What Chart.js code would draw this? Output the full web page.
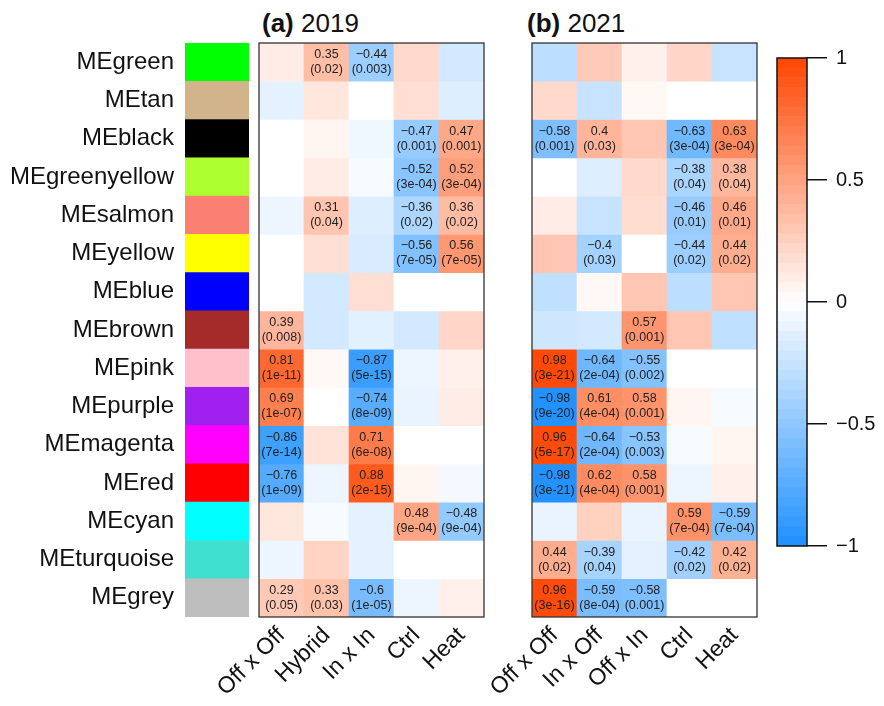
<!DOCTYPE html>
<html>
<head>
<meta charset="utf-8">
<script src="https://cdn.jsdelivr.net/npm/chart.js@4.4.1/dist/chart.umd.min.js"></script>
<style>
  html, body { margin: 0; padding: 0; background: #fff; }
  #wrap { position: relative; width: 884px; height: 706px; overflow: hidden;
          font-family: 'Liberation Sans', Arial, Helvetica, sans-serif; }
  #wrap canvas { position: absolute; left: 0; top: 0; }
  .title { position: absolute; top: 10px; font-size: 26px; line-height: 26px; color: #111; white-space: nowrap; }
</style>
</head>
<body>
<div id="wrap">
  <div class="title" style="left:262px"><b>(a)</b> 2019</div>
  <div class="title" style="left:527px"><b>(b)</b> 2021</div>
  <canvas id="strip" width="884" height="706"></canvas>
  <canvas id="heat2019" width="884" height="706"></canvas>
  <canvas id="heat2021" width="884" height="706"></canvas>
  <canvas id="key" width="884" height="706"></canvas>
</div>
<script>
// Module eigengenes (rows) and their module colours
const modules = ['MEgreen', 'MEtan', 'MEblack', 'MEgreenyellow', 'MEsalmon', 'MEyellow', 'MEblue',
  'MEbrown', 'MEpink', 'MEpurple', 'MEmagenta', 'MEred', 'MEcyan', 'MEturquoise', 'MEgrey'];
const moduleColors = ['#00FF00', '#D2B48C', '#000000', '#ADFF2F', '#FA8072', '#FFFF00', '#0000FF',
  '#A52A2A', '#FFC0CB', '#A020F0', '#FF00FF', '#FF0000', '#00FFFF', '#40E0D0', '#BEBEBE'];

// Traits (columns)
const traits2019 = ['Off x Off', 'Hybrid', 'In x In', 'Ctrl', 'Heat'];
const traits2021 = ['Off x Off', 'In x Off', 'Off x In', 'Ctrl', 'Heat'];

// Module–trait correlations, 2019
const corr2019 = [
  [ 0.10,  0.35, -0.44,  0.20, -0.20],
  [-0.12,  0.13,  0.00,  0.17, -0.15],
  [ 0.00,  0.05, -0.07, -0.47,  0.47],
  [ 0.00,  0.10, -0.04, -0.52,  0.52],
  [-0.08,  0.31, -0.15, -0.36,  0.36],
  [ 0.00,  0.17, -0.17, -0.56,  0.56],
  [ 0.00, -0.20,  0.17,  0.00,  0.00],
  [ 0.39, -0.20, -0.13, -0.20,  0.22],
  [ 0.81,  0.04, -0.87, -0.08,  0.08],
  [ 0.69,  0.00, -0.74, -0.10,  0.10],
  [-0.86,  0.15,  0.71,  0.00,  0.00],
  [-0.76, -0.08,  0.88,  0.05, -0.05],
  [ 0.13, -0.04, -0.12,  0.48, -0.48],
  [-0.08,  0.23, -0.12,  0.00,  0.00],
  [ 0.29,  0.33, -0.60, -0.08,  0.08]
];
// P-values shown for significant cells, 2019 (null = not shown)
const pval2019 = [
  [null, '0.02', '0.003', null, null],
  [null, null, null, null, null],
  [null, null, null, '0.001', '0.001'],
  [null, null, null, '3e-04', '3e-04'],
  [null, '0.04', null, '0.02', '0.02'],
  [null, null, null, '7e-05', '7e-05'],
  [null, null, null, null, null],
  ['0.008', null, null, null, null],
  ['1e-11', null, '5e-15', null, null],
  ['1e-07', null, '8e-09', null, null],
  ['7e-14', null, '6e-08', null, null],
  ['1e-09', null, '2e-15', null, null],
  [null, null, null, '9e-04', '9e-04'],
  [null, null, null, null, null],
  ['0.05', '0.03', '1e-05', null, null]
];

// Module–trait correlations, 2021
const corr2021 = [
  [-0.30,  0.28,  0.08,  0.22, -0.25],
  [ 0.20, -0.25,  0.04,  0.00,  0.00],
  [-0.58,  0.40,  0.30, -0.63,  0.63],
  [ 0.00, -0.15,  0.20, -0.38,  0.38],
  [ 0.10, -0.25,  0.18, -0.46,  0.46],
  [ 0.30, -0.40,  0.00, -0.44,  0.44],
  [-0.28,  0.04,  0.30, -0.30,  0.30],
  [-0.22, -0.20,  0.57,  0.30, -0.28],
  [ 0.98, -0.64, -0.55,  0.00,  0.00],
  [-0.98,  0.61,  0.58,  0.05, -0.04],
  [ 0.96, -0.64, -0.53, -0.04,  0.05],
  [-0.98,  0.62,  0.58, -0.08,  0.08],
  [-0.10,  0.25, -0.10,  0.59, -0.59],
  [ 0.44, -0.39, -0.12, -0.42,  0.42],
  [ 0.96, -0.59, -0.58,  0.00,  0.00]
];
const pval2021 = [
  [null, null, null, null, null],
  [null, null, null, null, null],
  ['0.001', '0.03', null, '3e-04', '3e-04'],
  [null, null, null, '0.04', '0.04'],
  [null, null, null, '0.01', '0.01'],
  [null, '0.03', null, '0.02', '0.02'],
  [null, null, null, null, null],
  [null, null, '0.001', null, null],
  ['3e-21', '2e-04', '0.002', null, null],
  ['9e-20', '4e-04', '0.001', null, null],
  ['5e-17', '2e-04', '0.003', null, null],
  ['3e-21', '4e-04', '0.001', null, null],
  [null, null, null, '7e-04', '7e-04'],
  ['0.02', '0.04', null, '0.02', '0.02'],
  ['3e-16', '8e-04', '0.001', null, null]
];

// Colour key ticks
const keyTicks = [-1, -0.5, 0, 0.5, 1];
const keySteps = 50;

const FONT = "'Liberation Sans', Arial, Helvetica, sans-serif";
Chart.defaults.font.family = FONT;

// dodgerblue -> white -> orangered
function corrColor(v) {
  const a = Math.min(1, Math.abs(v));
  let c;
  if (v >= 0) c = [255, 255 - 186 * a, 255 - 255 * a];
  else c = [255 - 225 * a, 255 - 111 * a, 255];
  return 'rgb(' + c.map(x => Math.round(x)).join(',') + ')';
}
const fmt = v => String(v).replace('-', '\u2212');

// Outline around the plotting area
const frame = {
  id: 'frame',
  afterDraw(chart, args, opts) {
    const { ctx, chartArea: a } = chart;
    ctx.save();
    ctx.strokeStyle = opts.color || '#333';
    ctx.lineWidth = opts.width || 1.3;
    ctx.strokeRect(a.left, a.top, a.right - a.left, a.bottom - a.top);
    ctx.restore();
  }
};

// Correlation and p-value printed inside the significant cells
function cellText(vals, pvals) {
  return {
    id: 'cellText',
    afterDatasetsDraw(chart) {
      const ctx = chart.ctx;
      ctx.save();
      ctx.font = '12.5px ' + FONT;
      ctx.fillStyle = '#222';
      ctx.textAlign = 'center';
      ctx.textBaseline = 'middle';
      chart.data.datasets.forEach((ds, r) => {
        chart.getDatasetMeta(r).data.forEach((bar, c) => {
          const p = pvals[r][c];
          if (p == null) return;
          const cy = (bar.y + bar.base) / 2;
          ctx.fillText(fmt(vals[r][c]), bar.x, cy - 7.5);
          ctx.fillText('(' + p + ')', bar.x, cy + 7.5);
        });
      });
      ctx.restore();
    }
  };
}

const common = {
  responsive: false,
  animation: false,
  events: [],
};

// Module colour strip with row names
new Chart(document.getElementById('strip'), {
  type: 'bar',
  data: {
    labels: modules,
    datasets: [{
      data: modules.map(() => [0, 1]),
      backgroundColor: moduleColors,
      borderWidth: 0,
      barPercentage: 1,
      categoryPercentage: 1
    }]
  },
  options: Object.assign({}, common, {
    indexAxis: 'y',
    layout: { padding: { left: 5, right: 635, top: 43, bottom: 89 } },
    plugins: { legend: { display: false }, tooltip: { enabled: false } },
    scales: {
      x: { display: false, min: 0, max: 1 },
      y: {
        grid: { display: false, drawTicks: false, tickLength: 0 },
        border: { display: false },
        ticks: { font: { size: 24 }, color: '#111', padding: 11 },
        afterFit(s) { s.width = 180; }
      }
    }
  })
});

// One heatmap panel: each row is a dataset of floating bars spanning [r, r+1]
function heatmap(id, traits, vals, pvals, left) {
  new Chart(document.getElementById(id), {
    type: 'bar',
    data: {
      labels: traits,
      datasets: modules.map((m, r) => ({
        label: m,
        data: traits.map(() => [r, r + 1]),
        backgroundColor: vals[r].map(corrColor),
        borderWidth: 0,
        grouped: false,
        barPercentage: 1,
        categoryPercentage: 1
      }))
    },
    options: Object.assign({}, common, {
      layout: { padding: { left: left, right: 884 - left - 225, top: 43, bottom: 4 } },
      plugins: { legend: { display: false }, tooltip: { enabled: false }, frame: { color: '#333', width: 1.3 } },
      scales: {
        x: {
          grid: { display: false, drawTicks: false, tickLength: 0 },
          border: { display: false },
          ticks: { font: { size: 23 }, color: '#111', minRotation: 45, maxRotation: 45, autoSkip: false, padding: 5 },
          afterFit(s) { s.height = 85; }
        },
        y: { display: false, min: 0, max: 15, reverse: true }
      }
    }),
    plugins: [cellText(vals, pvals), frame]
  });
}
heatmap('heat2019', traits2019, corr2019, pval2019, 259);
heatmap('heat2021', traits2021, corr2021, pval2021, 532);

// Colour key
const keyData = [];
for (let i = 0; i < keySteps; i++) {
  const lo = -1 + 2 * i / keySteps, hi = -1 + 2 * (i + 1) / keySteps;
  keyData.push({ range: [lo, hi], color: corrColor((lo + hi) / 2) });
}
new Chart(document.getElementById('key'), {
  type: 'bar',
  data: {
    labels: ['key'],
    datasets: keyData.map(k => ({
      data: [k.range],
      backgroundColor: k.color,
      borderWidth: 0,
      grouped: false,
      barPercentage: 1,
      categoryPercentage: 1
    }))
  },
  options: Object.assign({}, common, {
    layout: { padding: { left: 777, right: 7, top: 58, bottom: 160 } },
    plugins: { legend: { display: false }, tooltip: { enabled: false }, frame: { color: '#111', width: 1.5 } },
    scales: {
      x: { display: false },
      y: {
        position: 'right', min: -1, max: 1,
        afterBuildTicks(s) { s.ticks = keyTicks.map(v => ({ value: v })); },
        ticks: { callback: v => fmt(v), font: { size: 20 }, color: '#111', padding: 9 },
        grid: { drawOnChartArea: false, drawTicks: true, tickLength: 20, color: '#111', lineWidth: 1.5 },
        border: { display: false },
        afterFit(s) { s.width = 70; }
      }
    }
  }),
  plugins: [frame]
});
</script>
</body>
</html>
